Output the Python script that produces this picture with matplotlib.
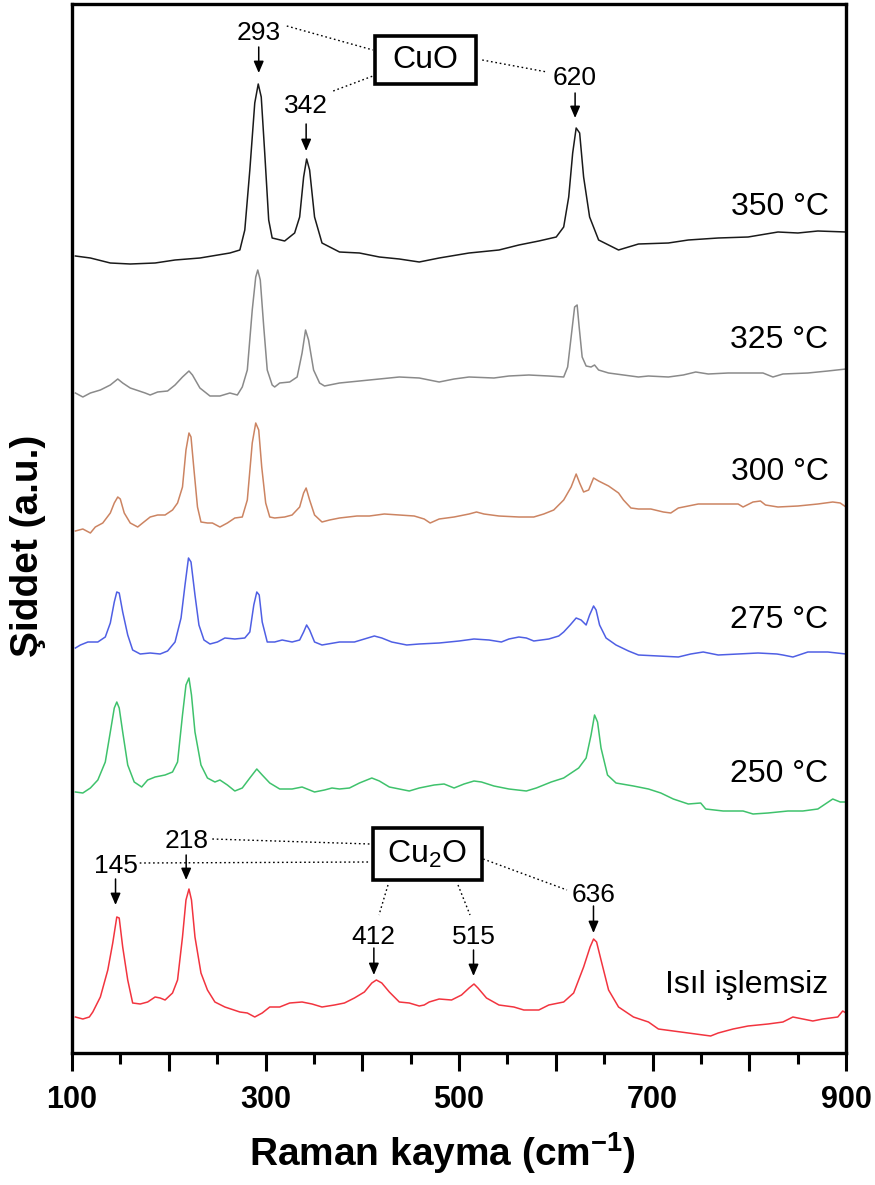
import matplotlib
matplotlib.use("Agg")
import matplotlib.pyplot as plt
from matplotlib.ticker import MultipleLocator, FuncFormatter
from matplotlib.patches import Rectangle

plt.rcParams['font.family'] = ['Liberation Sans', 'DejaVu Sans']
plt.rcParams['mathtext.fontset'] = 'custom'
plt.rcParams['mathtext.rm'] = 'Liberation Sans'
plt.rcParams['mathtext.bf'] = 'Liberation Sans:bold'
plt.rcParams['mathtext.it'] = 'Liberation Sans:italic'

# ---------------- data (Raman shift in cm-1, stacked intensity in a.u.) ----------------
x_350 = [103.5,119.0,139.6,160.2,185.9,206.5,232.2,263.2,273.5,278.6,283.8,288.9,292.5,295.6,299.2,303.3,306.9,319.8,330.1,335.3,339.4,342.5,345.6,350.7,358.4,376.5,397.1,417.7,438.3,458.9,479.5,510.4,541.3,561.9,582.5,600.5,608.2,613.4,617.5,621.1,624.7,628.8,635.0,644.3,664.9,685.5,716.4,737.0,767.9,798.8,829.7,850.3,870.9,900]
y_350 = [797,795,790,789,790,793,795,800,803,823,883,950,969,956,900,833,815,812,820,836,876,894,883,836,810,801,800,796,794,791,795,800,803,808,812,816,826,856,900,925,920,876,836,813,803,809,810,813,815,816,821,820,822,821]

x_325 = [103.5,111.2,119.0,129.3,139.6,147.3,152.4,160.2,175.6,180.8,188.5,198.8,206.5,214.2,220.9,224.5,232.2,242.6,252.9,263.2,270.9,276.0,281.2,286.3,289.9,292.0,294.6,298.2,301.8,306.9,309.5,314.7,325.0,332.7,337.8,341.4,344.5,349.7,355.9,361.0,376.5,397.1,417.7,438.3,458.9,479.5,494.9,510.4,536.1,551.6,572.2,592.8,608.2,612.3,615.9,619.5,622.1,624.2,627.3,631.4,636.5,640.1,644.3,654.6,670.0,685.5,695.8,716.4,731.8,744.7,757.6,778.2,798.8,814.2,824.5,834.8,860.6,881.2,900]
y_325 = [660,656,660,663,668,674,670,665,660,658,661,662,668,676,682,678,665,657,657,660,658,666,683,743,776,783,773,726,683,668,666,670,671,676,700,723,713,683,670,667,670,672,674,676,675,671,674,676,675,677,678,677,676,686,716,746,748,726,696,687,686,688,683,680,678,676,677,676,678,681,679,680,680,680,676,679,680,682,684]

x_300 = [103.5,111.2,119.0,124.1,131.8,139.6,143.7,147.3,149.9,154.0,160.2,167.9,173.0,180.8,188.5,196.2,203.9,209.1,214.2,217.8,220.9,223.0,226.1,229.7,233.3,240.0,245.1,252.9,260.6,268.3,276.0,281.2,286.3,289.9,293.0,296.1,300.2,304.4,309.5,319.8,327.5,335.3,339.4,342.0,345.6,350.7,358.4,366.2,376.5,394.5,407.4,422.8,438.3,453.7,464.0,470.2,479.5,494.9,510.4,518.1,525.8,541.3,561.9,577.3,587.6,597.9,608.2,615.9,621.1,624.7,628.8,634.0,639.1,644.3,654.6,664.9,670.0,677.7,685.5,698.3,711.2,718.9,726.7,737.0,747.3,767.9,788.5,793.6,803.9,811.6,816.8,829.7,850.3,870.9,886.3,894.0,900]
y_300 = [522,524,520,526,530,540,550,556,554,540,530,526,530,536,538,538,543,550,566,603,620,616,583,546,531,530,530,526,530,535,536,553,610,630,623,586,550,536,535,536,538,546,560,565,553,538,531,533,535,537,537,539,538,537,534,530,534,536,539,541,539,537,536,536,539,543,553,566,579,570,561,563,575,572,567,560,553,545,544,544,541,540,545,547,549,549,549,546,551,552,548,546,547,549,551,550,546]

x_275 = [103.5,108.7,116.4,126.7,134.4,139.6,143.7,146.3,148.8,152.4,157.6,162.7,170.5,180.8,191.1,198.8,206.5,212.7,216.8,220.4,223.0,227.1,231.2,236.4,242.6,250.3,258.0,268.3,278.6,283.8,287.9,291.0,293.5,296.6,301.8,309.5,317.2,327.5,335.3,339.4,342.5,345.6,350.7,358.4,376.5,391.9,402.2,412.5,420.2,430.5,446.0,458.9,479.5,500.1,515.5,531.0,543.8,551.6,561.9,569.6,577.3,592.8,603.1,608.2,614.9,621.1,626.2,631.4,635.0,639.1,641.7,645.3,652.0,662.3,675.2,685.5,706.1,726.7,739.5,752.4,767.9,788.5,809.1,828.6,834.8,845.1,860.6,881.2,900]
y_275 = [405,408,411,411,416,430,451,461,460,441,418,403,399,400,399,402,411,435,468,495,491,458,428,413,409,411,415,414,415,421,448,461,458,431,411,411,413,411,413,421,428,423,411,408,411,411,414,417,415,411,408,409,410,412,414,413,411,414,416,415,412,414,417,421,428,435,433,428,438,447,443,428,415,408,402,398,397,396,399,401,398,399,400,399,398,396,401,401,399]

x_250 = [103.5,111.2,119.0,126.7,134.4,139.6,143.7,146.3,148.8,152.4,157.6,164.3,172.0,178.2,185.9,196.2,203.9,209.1,214.2,217.8,220.9,223.5,227.1,233.3,240.0,247.7,252.9,260.6,268.3,276.0,283.8,291.0,296.6,304.4,314.7,327.5,337.8,343.0,350.7,361.0,368.7,376.5,386.8,397.1,409.9,417.7,428.0,448.6,458.9,474.3,484.6,494.9,505.2,515.5,523.2,536.1,551.6,569.6,579.9,595.3,608.2,623.7,631.4,636.5,640.1,643.2,646.8,653.5,662.3,680.3,695.8,708.6,721.5,737.0,749.8,755.0,773.0,793.6,803.9,819.4,840.0,855.4,870.9,878.6,886.3,894.0,900]
y_250 = [261,260,265,273,291,321,345,351,345,321,288,271,266,273,276,278,281,291,338,368,375,358,321,288,275,271,273,268,262,265,275,284,278,270,264,264,266,264,261,263,265,264,265,270,275,272,266,262,265,268,269,265,269,272,271,267,264,262,265,271,275,285,295,318,338,331,305,278,270,267,264,260,254,249,250,244,242,242,239,240,242,242,244,249,254,251,251]

x_raw = [103.5,111.2,117.9,121.5,129.3,137.0,142.1,146.3,148.8,152.4,157.6,162.7,170.5,178.2,185.9,191.1,196.2,203.9,209.1,214.2,217.8,220.9,223.5,227.1,233.3,240.0,247.7,258.0,273.5,281.2,288.9,296.6,304.4,314.7,325.0,337.8,348.1,358.4,371.3,381.6,391.9,402.2,409.9,414.6,420.2,428.0,438.3,448.6,458.9,464.0,469.2,479.5,492.3,502.6,510.4,515.5,519.6,528.4,541.3,556.7,567.0,582.5,592.8,608.2,618.5,628.8,635.5,639.1,642.2,646.8,654.6,664.9,680.3,695.8,706.1,721.5,737.0,752.4,760.1,767.9,783.3,798.8,819.4,834.8,845.1,855.4,865.7,876.0,891.5,896.6,900]
y_raw = [36,34,36,41,56,83,110,136,135,106,73,50,49,51,56,55,53,60,73,116,153,164,153,116,80,63,51,46,41,40,36,40,46,46,50,51,49,46,48,50,55,61,70,73,70,61,51,50,47,48,51,54,53,58,65,69,65,55,48,46,43,43,48,51,60,86,106,114,111,93,63,46,36,31,24,22,20,18,17,20,24,27,29,31,36,34,32,34,36,42,40]

series_labels = ['350 °C', '325 °C', '300 °C', '275 °C', '250 °C', 'Isıl işlemsiz']
series_colors = ['#1a1a1a', '#8a8a8a', '#cc8462', '#4f5fe4', '#3fc26c', '#f2343f']
series_x = [x_350, x_325, x_300, x_275, x_250, x_raw]
series_y = [y_350, y_325, y_300, y_275, y_250, y_raw]
label_baseline = [838, 705, 573, 425, 271, 60]

cuo_labels = ['293', '342', '620']
cuo_pos = [293, 342, 620]
cu2o_labels = ['145', '218', '412', '515', '636']
cu2o_pos = [145, 218, 412, 515, 639]

# ---------------- figure ----------------
fig = plt.figure(figsize=(8.75, 11.85), dpi=100)
ax = fig.add_axes([72/875, (1185-1053)/1185, (846-72)/875, (1053-4)/1185])
ax.set_xlim(100, 900)
ax.set_ylim(0, 1049)

for xs, ys, c in zip(series_x, series_y, series_colors):
    ax.plot(xs, ys, color=c, lw=1.1, solid_joinstyle='round')

for lab, yb in zip(series_labels, label_baseline):
    ax.text(882, yb, lab, ha='right', va='baseline', fontsize=23, color='black')

# axes style
for s in ax.spines.values():
    s.set_linewidth(2.4)
ax.xaxis.set_major_locator(MultipleLocator(100))
ax.xaxis.set_minor_locator(MultipleLocator(50))
ax.xaxis.set_major_formatter(FuncFormatter(lambda v, p: f"{int(v)}" if int(round(v)) % 200 == 100 else ""))
ax.tick_params(axis='x', which='major', direction='out', length=13, width=2.2, labelsize=22, pad=10)
ax.tick_params(axis='x', which='minor', direction='out', length=8, width=2.2)
for t in ax.get_xticklabels():
    t.set_fontweight('bold')
ax.set_yticks([])
ax.set_xlabel('Raman kayma (cm$^{\\mathbf{-1}}$)', fontsize=28, fontweight='bold')
ax.xaxis.set_label_coords(0.478, -0.074)
ax.set_ylabel('Şiddet (a.u.)', fontsize=28, fontweight='bold')
ax.yaxis.set_label_coords(-0.034, 0.483)

arrow_kw = dict(arrowstyle='-|>,head_length=0.7,head_width=0.3', color='black', lw=1.1,
                mutation_scale=10, shrinkA=0, shrinkB=0)
dot_kw = dict(color='black', lw=1.0, ls=(0, (1.2, 2.0)))

# CuO annotations
cuo_text_y = [1013, 940, 968]
cuo_arrow = [(1006, 980), (929, 902), (960, 935)]
for lab, xp, ty, (a0, a1) in zip(cuo_labels, cuo_pos, cuo_text_y, cuo_arrow):
    ax.text(xp, ty, lab, ha='center', va='baseline', fontsize=19)
    ax.annotate('', xy=(xp, a1), xytext=(xp, a0), arrowprops=arrow_kw)
ax.add_patch(Rectangle((413.2, 969), 517.6-413.2, 1017-969, fill=False, lw=2.6, ec='black'))
ax.text(465.4, 993, 'CuO', ha='center', va='center', fontsize=23)
ax.plot([322, 411], [1027, 1003], **dot_kw)
ax.plot([370, 411], [962, 977], **dot_kw)
ax.plot([524, 591], [993, 981], **dot_kw)

# Cu2O annotations
cu2o_text_y = [180, 205, 109, 109, 151]
cu2o_arrow = [(174, 148), (198, 173), (105, 78), (103, 77), (147, 120)]
for lab, xp, ty, (a0, a1) in zip(cu2o_labels, cu2o_pos, cu2o_text_y, cu2o_arrow):
    ax.text(xp, ty, lab, ha='center', va='baseline', fontsize=19)
    ax.annotate('', xy=(xp, a1), xytext=(xp, a0), arrowprops=arrow_kw)
ax.add_patch(Rectangle((411.1, 173), 523.8-411.1, 225-173, fill=False, lw=2.6, ec='black'))
ax.text(467, 199, 'Cu$_{\\mathrm{2}}$O', ha='center', va='center', fontsize=23)
ax.plot([245, 408], [214, 209], **dot_kw)
ax.plot([170, 408], [190, 191], **dot_kw)
ax.plot([426.6, 417.3], [168, 138], **dot_kw)
ax.plot([499, 511.4], [168, 138], **dot_kw)
ax.plot([525, 611.6], [194, 163], **dot_kw)

fig.savefig('out.png', dpi=100)
